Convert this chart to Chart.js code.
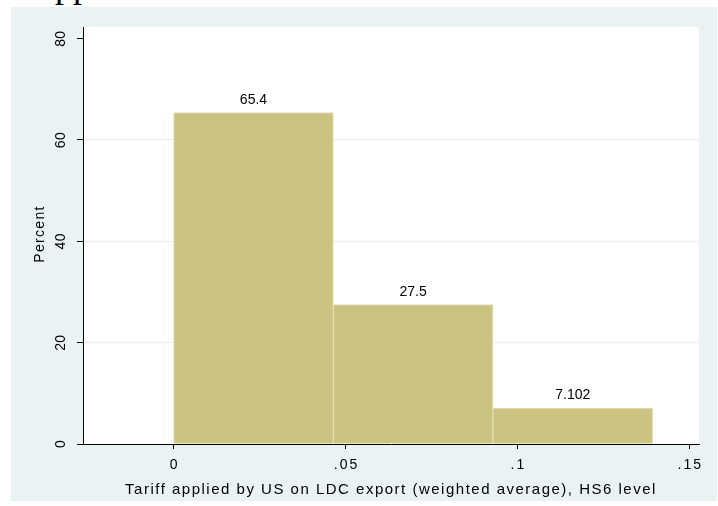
<!DOCTYPE html>
<html>
<head>
<meta charset="utf-8">
<script src="https://cdn.jsdelivr.net/npm/chart.js@4.4.1/dist/chart.umd.min.js"></script>
<style>
  html,body{margin:0;padding:0;background:#fff;}
  #wrap{position:relative;width:718px;height:506px;overflow:hidden;}
  #frag{position:absolute;left:55px;top:-33px;font-family:"Liberation Serif","Times New Roman",serif;font-size:36px;color:#000;line-height:1;}
  canvas{position:absolute;left:0;top:0;}
</style>
</head>
<body>
<div id="wrap">
  <div id="frag">pp</div>
  <canvas id="c" width="718" height="506"></canvas>
</div>
<script>
// ---- data ----
const binEdges = [0, 0.04645, 0.0929, 0.13935];
const percents = [65.4, 27.5, 7.102];
const valueLabels = ["65.4", "27.5", "7.102"];
const xTickValues = [0, 0.05, 0.1, 0.15];
const xTickLabels = ["0", ".05", ".1", ".15"];
const yTickValues = [0, 20, 40, 60, 80];
const yTickLabels = ["0", "20", "40", "60", "80"];
const xTitle = "Tariff applied by US on LDC export (weighted average), HS6 level";
const yTitle = "Percent";

const points = percents.map((p, i) => ({ x: (binEdges[i] + binEdges[i + 1]) / 2, y: p }));

const FONT = '"Liberation Sans", Arial, sans-serif';

const bgPlugin = {
  id: 'bg',
  beforeDraw(chart) {
    const ctx = chart.ctx, a = chart.chartArea;
    ctx.save();
    ctx.fillStyle = '#eaf2f3';
    ctx.fillRect(11, 7, 706, 494);
    ctx.fillStyle = '#ffffff';
    ctx.fillRect(a.left, a.top, a.right - a.left, a.bottom - a.top);
    ctx.restore();
  },
  afterDraw(chart) {
    const ctx = chart.ctx;
    const ys = chart.scales.y, xs = chart.scales.x;
    ctx.save();
    ctx.fillStyle = '#000';
    ctx.textAlign = 'center';
    // y tick labels rotated
    ctx.font = '14px ' + FONT;
    ctx.letterSpacing = '0.4px';
    ctx.textBaseline = 'middle';
    yTickValues.forEach((v, i) => {
      const py = ys.getPixelForValue(v);
      ctx.save();
      ctx.translate(61, py);
      ctx.rotate(-Math.PI / 2);
      ctx.fillText(yTickLabels[i], 0, 0);
      ctx.restore();
    });
    // y title
    ctx.letterSpacing = '1.3px';
    ctx.save();
    ctx.translate(40, 234);
    ctx.rotate(-Math.PI / 2);
    ctx.fillText(yTitle, 0, 0);
    ctx.restore();
    // x tick labels
    ctx.letterSpacing = '2px';
    ctx.textBaseline = 'alphabetic';
    xTickValues.forEach((v, i) => {
      ctx.fillText(xTickLabels[i], xs.getPixelForValue(v) + 1, 469);
    });
    // x title
    ctx.font = '15px ' + FONT;
    ctx.letterSpacing = '1.5px';
    ctx.fillText(xTitle, 391, 494);
    // value labels
    ctx.font = '14px ' + FONT;
    ctx.letterSpacing = '0px';
    const meta = chart.getDatasetMeta(0);
    meta.data.forEach((bar, i) => {
      ctx.fillText(valueLabels[i], bar.x, bar.y - 9);
    });
    ctx.restore();
  }
};

new Chart(document.getElementById('c'), {
  type: 'bar',
  data: {
    datasets: [{
      data: points,
      backgroundColor: 'rgb(202,195,130)',
      borderColor: 'rgb(228,224,180)',
      borderWidth: 1,
      barPercentage: 1,
      categoryPercentage: 1,
      grouped: false
    }]
  },
  options: {
    responsive: false,
    animation: false,
    events: [],
    layout: { padding: { left: 0, top: 27, right: 19, bottom: 0 } },
    plugins: { legend: { display: false }, tooltip: { enabled: false }, title: { display: false } },
    scales: {
      x: {
        type: 'linear',
        offset: false,
        min: -0.02637,
        max: 0.15282,
        afterBuildTicks(s) { s.ticks = xTickValues.map(v => ({ value: v })); },
        afterFit(s) { s.height = 62; },
        ticks: { display: false },
        grid: { offset: false, drawOnChartArea: false, drawTicks: true, tickLength: 5, tickColor: '#000', tickWidth: 1 },
        border: { display: true, color: '#000', width: 1 }
      },
      y: {
        type: 'linear',
        min: 0,
        max: 82.3,
        afterBuildTicks(s) { s.ticks = yTickValues.map(v => ({ value: v })); },
        afterFit(s) { s.width = 83; },
        ticks: { display: false },
        grid: {
          drawTicks: true,
          tickLength: 6,
          tickColor: '#000',
          color: (c) => (c.tick && c.tick.value > 0 && c.tick.value < 80) ? '#e6eef1' : 'rgba(0,0,0,0)',
          lineWidth: 1
        },
        border: { display: true, color: '#000', width: 1 }
      }
    }
  },
  plugins: [bgPlugin]
});
</script>
</body>
</html>
